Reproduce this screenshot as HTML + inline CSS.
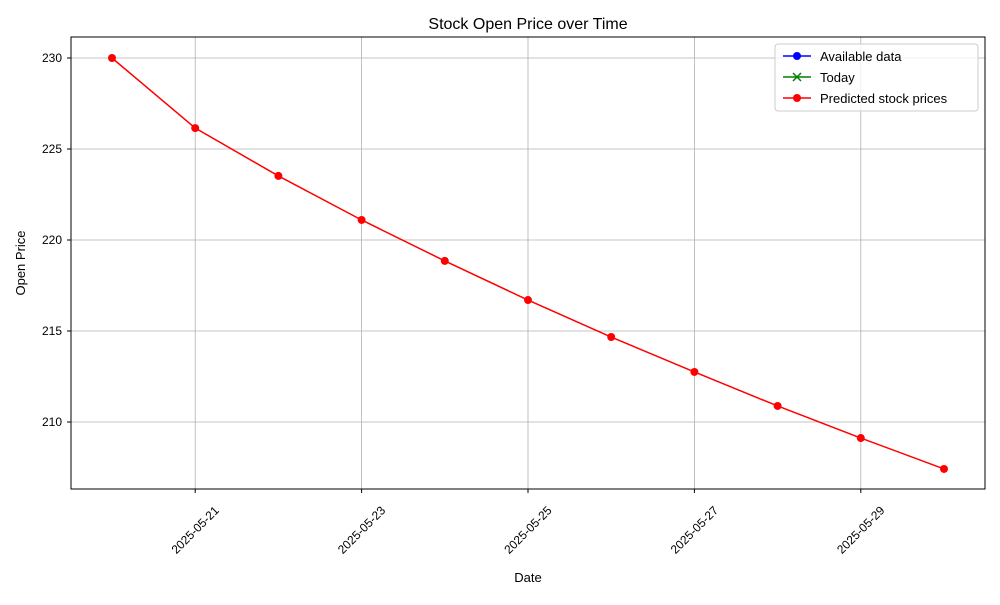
<!DOCTYPE html>
<html><head><meta charset="utf-8"><style>
body{margin:0;background:#fff;font-family:"Liberation Sans","DejaVu Sans",sans-serif;}
</style></head><body>
<svg id="chart" width="1000" height="600" xmlns="http://www.w3.org/2000/svg">
<rect width="1000" height="600" fill="#fff"/>
<text x="528" y="29" font-size="16" text-anchor="middle">Stock Open Price over Time</text>
<g id="grid"></g>
<g id="series"></g>
<rect x="71" y="37" width="914" height="452" fill="none" stroke="#000" stroke-width="1"/>
<g id="axes" font-size="12"></g>
<text x="528" y="582" font-size="13" text-anchor="middle">Date</text>
<text x="25" y="263" font-size="13" text-anchor="middle" transform="rotate(-90 25 263)">Open Price</text>
<g>
<rect x="775" y="44" width="203" height="67" fill="#fff" fill-opacity="0.8" stroke="#ccc" rx="3"/>
<g><line x1="783" y1="56" x2="811" y2="56" stroke="#0000ff" stroke-width="1.5"/><circle cx="797" cy="56" r="4" fill="#0000ff"/><text x="820" y="61" font-size="13">Available data</text></g>
<g><line x1="783" y1="77" x2="811" y2="77" stroke="#008000" stroke-width="1.5"/><path d="M793 73 L801 81 M801 73 L793 81" stroke="#008000" stroke-width="1.5"/><text x="820" y="82" font-size="13">Today</text></g>
<g><line x1="783" y1="98" x2="811" y2="98" stroke="#ff0000" stroke-width="1.5"/><circle cx="797" cy="98" r="4" fill="#ff0000"/><text x="820" y="103" font-size="13">Predicted stock prices</text></g>
</g>
</svg>
<script>
const dates=["2025-05-20","2025-05-21","2025-05-22","2025-05-23","2025-05-24","2025-05-25","2025-05-26","2025-05-27","2025-05-28","2025-05-29","2025-05-30"];
const predicted=[230.0,226.15,223.52,221.1,218.85,216.7,214.67,212.75,210.88,209.12,207.42];
const yTicks=[210,215,220,225,230];
const xTickLabels=["2025-05-21","2025-05-23","2025-05-25","2025-05-27","2025-05-29"];
const NS="http://www.w3.org/2000/svg";
const x0=112,dx=83.2;
function xScale(i){return x0+i*dx;}
function yScale(v){return 58+(230-v)*18.2;}
function mk(t,a,p){const e=document.createElementNS(NS,t);for(const k in a)e.setAttribute(k,a[k]);p.appendChild(e);return e;}
const grid=document.getElementById('grid'),axes=document.getElementById('axes'),series=document.getElementById('series');
yTicks.forEach(v=>{const y=yScale(v);
const g=mk('line',{x1:71,x2:985,y1:y,y2:y,stroke:'#b0b0b0','stroke-width':0.8},grid);


mk('line',{x1:67,x2:71,y1:y,y2:y,stroke:'#000'},axes);
const t=mk('text',{x:62,y:y+4,'text-anchor':'end'},axes);t.textContent=v;

});
xTickLabels.forEach(d=>{const i=dates.indexOf(d);const x=xScale(i);
const g=mk('line',{x1:x,x2:x,y1:37,y2:489,stroke:'#b0b0b0','stroke-width':0.8},grid);


mk('line',{x1:x,x2:x,y1:489,y2:493,stroke:'#000'},axes);
const cy=530;
const t=mk('text',{x:x,y:cy+4,'text-anchor':'middle',transform:`rotate(-45 ${x} ${cy})`},axes);t.textContent=d;

});
const pts=predicted.map((v,i)=>xScale(i)+','+yScale(v)).join(' ');
const pl=mk('polyline',{points:pts,fill:'none',stroke:'#ff0000','stroke-width':1.5},series);


predicted.forEach((v,i)=>{const c=mk('circle',{cx:xScale(i),cy:yScale(v),r:4,fill:'#ff0000'},series);

});
</script>
</body></html>
